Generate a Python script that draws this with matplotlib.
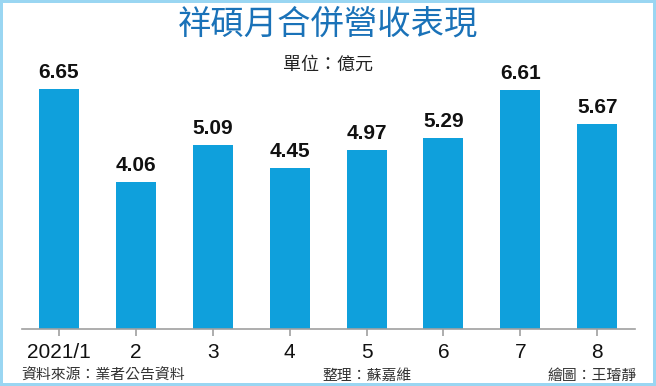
import matplotlib.pyplot as plt
import numpy as np

months = ['2021/1', '2', '3', '4', '5', '6', '7', '8']
revenue = [6.65, 4.06, 5.09, 4.45, 4.97, 5.29, 6.61, 5.67]

W, H = 656, 386
cjk = ['Noto Sans CJK TC', 'DejaVu Sans']

fig = plt.figure(figsize=(W / 100, H / 100), dpi=100,
                 linewidth=4, edgecolor='#9ad6f2', facecolor='white')

# axes box: baseline at y=329px, x from 22 to 635px
top_px = 60
ax = fig.add_axes([22 / W, (H - 329) / H, (635 - 22) / W, (329 - top_px) / H])
x = np.arange(len(months))
ax.bar(x, revenue, width=0.52, color='#0fa0dc')
ax.set_xlim(-0.48, 7.49)
ax.set_ylim(0, (329 - top_px) / 36.1)

for xi, v in zip(x, revenue):
    ax.annotate('%.2f' % v, (xi, v), xytext=(0, 5), textcoords='offset points',
                ha='center', va='bottom', fontsize=15, fontweight='bold',
                family='Liberation Sans', color='#111111')

for s in ['top', 'right', 'left']:
    ax.spines[s].set_visible(False)
ax.spines['bottom'].set_color('#a0a0a0')
ax.spines['bottom'].set_linewidth(1.2)
ax.set_yticks([])
ax.set_xticks(x)
ax.set_xticklabels(months, fontsize=15, family='Liberation Sans', color='#111111')
ax.tick_params(axis='x', direction='out', length=5, width=1.2, color='#a0a0a0', pad=5)

fig.text(328 / W, 1 - 24 / H, '祥碩月合併營收表現', ha='center', va='center',
         fontsize=24, fontweight='medium', color='#1a72b8', family=cjk)
fig.text(328 / W, 1 - 65 / H, '單位：億元', ha='center', va='center',
         fontsize=13, color='#222222', family=cjk)

fy = 1 - 376 / H
fig.text(21 / W, fy, '資料來源：業者公告資料', ha='left', va='center',
         fontsize=10.7, color='#333333', family=cjk)
fig.text(367 / W, fy, '整理：蘇嘉維', ha='center', va='center',
         fontsize=10.7, color='#333333', family=cjk)
fig.text(637 / W, fy, '繪圖：王璿靜', ha='right', va='center',
         fontsize=10.7, color='#333333', family=cjk)

fig.savefig('out.png', dpi=100, edgecolor=fig.get_edgecolor())
